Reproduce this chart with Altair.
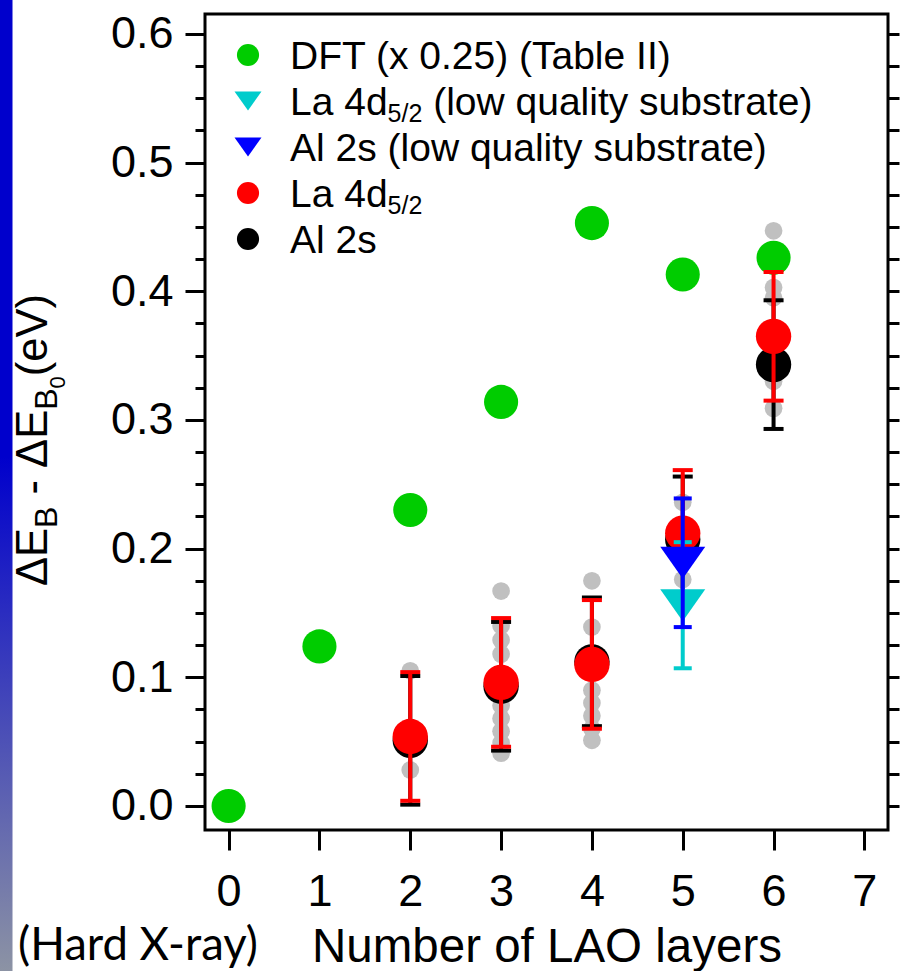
import altair as alt
import pandas as pd

# ---------------- data ----------------
# DFT shifts (scaled by 0.25), Table II
dft_layers = [0, 1, 2, 3, 4, 5, 6]
dft_shift = [0.000, 0.124, 0.230, 0.314, 0.453, 0.413, 0.426]

# averaged core-level shifts with error bars
meas_layers = [2, 3, 4, 5, 6]
la4d_shift = [0.054, 0.096, 0.110, 0.212, 0.365]
la4d_err = [0.050, 0.050, 0.050, 0.049, 0.050]
al2s_shift = [0.051, 0.093, 0.112, 0.207, 0.343]
al2s_err = [0.050, 0.050, 0.050, 0.049, 0.050]

# low quality substrate
lq_layers = [5]
la4d_lq_shift = [0.156]
la4d_lq_err = [0.049]
al2s_lq_shift = [0.189]
al2s_lq_err = [0.050]

# individual measurements (grey)
indiv_layers = [2, 2, 2,
                3, 3, 3, 3, 3, 3, 3, 3, 3,
                4, 4, 4, 4, 4, 4, 4,
                5, 5,
                6, 6, 6, 6, 6]
indiv_shift = [0.028, 0.052, 0.105,
               0.041, 0.049, 0.058, 0.068, 0.078, 0.118, 0.129, 0.140, 0.167,
               0.051, 0.060, 0.070, 0.080, 0.090, 0.139, 0.175,
               0.176, 0.236,
               0.309, 0.330, 0.395, 0.403, 0.447]

x_ticks = [0, 1, 2, 3, 4, 5, 6, 7]
y_ticks = [0.0, 0.025, 0.05, 0.075, 0.1, 0.125, 0.15, 0.175, 0.2, 0.225,
           0.25, 0.275, 0.3, 0.325, 0.35, 0.375, 0.4, 0.425, 0.45, 0.475,
           0.5, 0.525, 0.55, 0.575, 0.6]

# ---------------- styling ----------------
FONT = "Liberation Sans"
GREEN = "#00CC00"
RED = "#FF0000"
CYAN = "#00CCCC"
BLUE = "#0000FF"
GREY = "#C0C0C0"
TRI_DOWN = "M-1,-0.71L1,-0.71L0,0.71Z"

xs = alt.Scale(domain=[-0.26, 7.26], nice=False, zero=False)
ys = alt.Scale(domain=[-0.0187, 0.6155], nice=False, zero=False)

MAJOR = "abs(datum.value * 10 - round(datum.value * 10)) < 0.001"

x_axis = alt.Axis(values=x_ticks, format="d", domain=False, grid=False,
                  tickSize=20, tickWidth=3, tickColor="black",
                  labelFont=FONT, labelFontSize=45, labelColor="black",
                  labelPadding=19,
                  title="Number of LAO layers", titleFont=FONT,
                  titleFontSize=47.5, titleFontWeight="normal",
                  titleColor="black", titleBaseline="alphabetic", titleY=131)

y_left = alt.Axis(orient="left", values=y_ticks, domain=False, grid=False,
                  tickSize={"condition": {"test": MAJOR, "value": 20}, "value": 10},
                  tickWidth=3, tickColor="black",
                  labelExpr=f"{MAJOR} ? format(datum.value, '.1f') : ''",
                  labelFont=FONT, labelFontSize=45, labelColor="black",
                  labelPadding=12, title=None)

y_right = alt.Axis(orient="right", values=y_ticks, domain=False, grid=False,
                   tickSize=11, tickWidth=3, tickColor="black",
                   labels=False, title=None)


def xenc():
    return alt.X("n:Q", scale=xs, axis=x_axis)


def yenc(field="v", axis=None):
    return alt.Y(f"{field}:Q", scale=ys, axis=axis)


def errbar_layers(layers, shift, err, color, cap=20):
    lo = [round(s - e, 4) for s, e in zip(shift, err)]
    hi = [round(s + e, 4) for s, e in zip(shift, err)]
    bars = pd.DataFrame({"n": layers, "lo": lo, "hi": hi})
    caps = pd.DataFrame({"n": layers + layers, "v": lo + hi})
    rule = alt.Chart(bars).mark_rule(color=color, strokeWidth=4).encode(
        x=xenc(), y=yenc("lo"), y2="hi:Q")
    ticks = alt.Chart(caps).mark_tick(color=color, orient="horizontal",
                                      size=cap, thickness=4, opacity=1).encode(
        x=xenc(), y=yenc())
    return [rule, ticks]


one = pd.DataFrame({"k": [0]})


def label(text, x, y, size, font=FONT, angle=0, baseline="alphabetic"):
    kw = dict(text=text, font=font, fontSize=size, color="black",
              align="left", baseline=baseline)
    if angle:
        kw["angle"] = angle
    return alt.Chart(one).mark_text(**kw).encode(x=alt.value(x), y=alt.value(y))


def symbol(x, y, color, shape="circle", size=490):
    return alt.Chart(one).mark_point(shape=shape, size=size, filled=True,
                                     fill=color, strokeWidth=0, opacity=1).encode(
        x=alt.value(x), y=alt.value(y))


# ---------------- page decorations ----------------
strip = alt.Chart(one).mark_rect(
    fill=alt.LinearGradient(
        gradient="linear", x1=0, x2=0, y1=0, y2=1,
        stops=[alt.GradientStop(offset=0, color="#0000CC"),
               alt.GradientStop(offset=0.47, color="#0000CC"),
               alt.GradientStop(offset=1, color="#8C93A4")])
).encode(x=alt.value(-205), x2=alt.value(-192.5), y=alt.value(-14), y2=alt.value(957))

hard_xray = label("(Hard X-ray)", -187, 946, 45.5, font="Lato")

# rotated y title with subscripts: ΔE_B - ΔE_B0 (eV)
# each piece: text, font size, baseline shift, advance (em) before the next piece
yt_x = -158
yt = []
pos = 572
for txt, size, dx, adv in [("ΔE", 43.5, 0, 1.335), ("B", 32, 10, 0.667),
                           ("-", 43.5, 0, 0.333 + 2 * 0.278), ("ΔE", 43.5, 0, 1.335),
                           ("B", 32, 10, 0.667), ("0", 22, 18, 0.556),
                           ("(eV)", 43.5, 0, 1.889)]:
    lead = 0.278 * size if txt == "-" else 0
    yt.append(label(txt, yt_x + dx, pos - lead, size, angle=270))
    pos -= adv * size

# ---------------- data layers ----------------
grey = alt.Chart(pd.DataFrame({"n": indiv_layers, "v": indiv_shift})).mark_circle(
    size=314, color=GREY, opacity=1).encode(x=xenc(), y=yenc(axis=y_left))

dft = alt.Chart(pd.DataFrame({"n": dft_layers, "v": dft_shift})).mark_circle(
    size=1164, color=GREEN, opacity=1).encode(x=xenc(), y=yenc(axis=y_right))

al_pts = alt.Chart(pd.DataFrame({"n": meas_layers, "v": al2s_shift})).mark_circle(
    size=1250, color="black", opacity=1).encode(x=xenc(), y=yenc())
la_pts = alt.Chart(pd.DataFrame({"n": meas_layers, "v": la4d_shift})).mark_circle(
    size=1250, color=RED, opacity=1).encode(x=xenc(), y=yenc())

la_lq_pts = alt.Chart(pd.DataFrame({"n": lq_layers, "v": la4d_lq_shift})).mark_point(
    shape=TRI_DOWN, size=2025, filled=True, fill=CYAN, strokeWidth=0, opacity=1).encode(
    x=xenc(), y=yenc())
al_lq_pts = alt.Chart(pd.DataFrame({"n": lq_layers, "v": al2s_lq_shift})).mark_point(
    shape=TRI_DOWN, size=2025, filled=True, fill=BLUE, strokeWidth=0, opacity=1).encode(
    x=xenc(), y=yenc())

data_layers = (
    [grey, dft]
    + errbar_layers(meas_layers, al2s_shift, al2s_err, "black") + [al_pts]
    + errbar_layers(meas_layers, la4d_shift, la4d_err, RED) + [la_pts]
    + errbar_layers(lq_layers, la4d_lq_shift, la4d_lq_err, CYAN, cap=18) + [la_lq_pts]
    + errbar_layers(lq_layers, al2s_lq_shift, al2s_lq_err, BLUE, cap=18) + [al_lq_pts]
)

# ---------------- legend ----------------
LX, TX, LF, SF = 43, 85, 39, 25
rows = [41, 87, 133, 179, 225]
SUB_X = TX + 2.502 * LF
AFTER_SUB = SUB_X + 1.39 * SF + 0.278 * LF
leg = [
    symbol(LX, rows[0], GREEN),
    label("DFT (x 0.25) (Table II)", TX, rows[0] + 14, LF),
    symbol(LX, rows[1], CYAN, shape=TRI_DOWN, size=729),
    label("La 4d", TX, rows[1] + 14, LF),
    label("5/2", SUB_X, rows[1] + 21, SF),
    label("(low quality substrate)", AFTER_SUB, rows[1] + 14, LF),
    symbol(LX, rows[2], BLUE, shape=TRI_DOWN, size=729),
    label("Al 2s (low quality substrate)", TX, rows[2] + 14, LF),
    symbol(LX, rows[3], RED),
    label("La 4d", TX, rows[3] + 14, LF),
    label("5/2", SUB_X, rows[3] + 21, SF),
    symbol(LX, rows[4], "black"),
    label("Al 2s", TX, rows[4] + 14, LF),
]

chart = alt.layer(
    strip, hard_xray, *yt, *data_layers, *leg
).resolve_axis(y="independent").properties(
    width=683, height=816,
    padding={"left": 205, "top": 14, "right": 13, "bottom": 141},
    autosize=alt.AutoSizeParams(type="none"),
    background="white",
).configure_view(stroke="black", strokeWidth=3)

chart.save("out.html", embed_options={"renderer": "svg", "actions": False})
